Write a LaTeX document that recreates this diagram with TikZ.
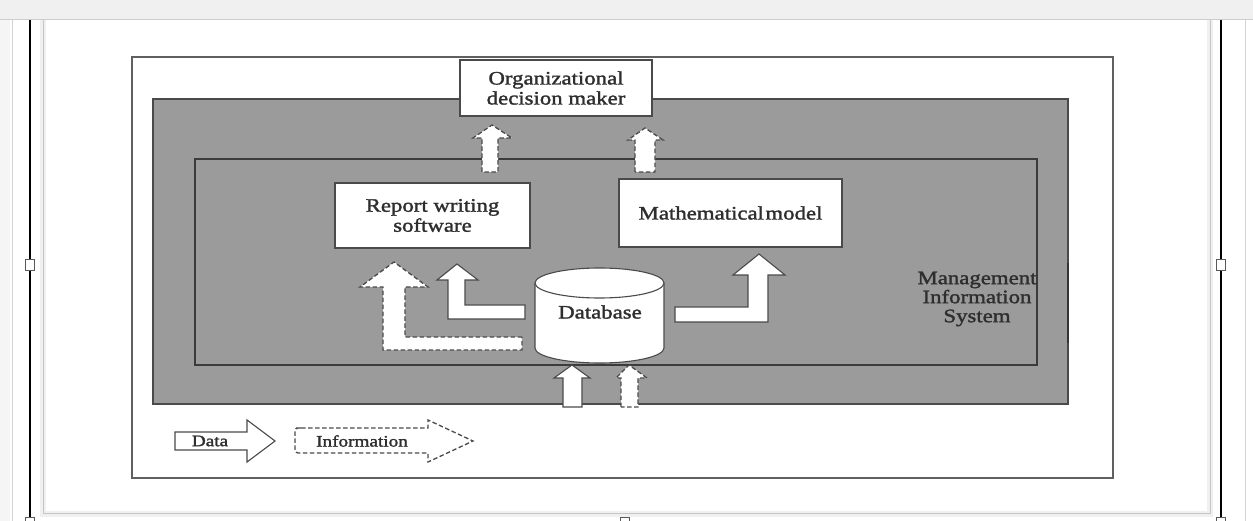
\documentclass[tikz,border=0pt]{standalone}
\usepackage{fontspec}
\newfontfamily\dfont{Liberation Serif}[FakeStretch=1.2,FakeBold=1.6]
\usetikzlibrary{calc}
\definecolor{panel}{HTML}{9B9B9B}
\definecolor{edge}{HTML}{4A4A4A}
\definecolor{ink}{HTML}{2E2E2E}
\definecolor{chrome}{HTML}{F0F0F0}
\tikzset{
  labelbox/.style={draw=edge, line width=1.1pt, fill=white, align=center,
    inner sep=0pt, text=ink, font=\dfont\fontsize{19}{20}\selectfont},
  plaintext/.style={align=center, inner sep=0pt, text=ink,
    font=\dfont\fontsize{19}{19}\selectfont},
  keytext/.style={inner sep=0pt, text=ink, font=\dfont\fontsize{16}{16}\selectfont},
  dataarrow/.style={draw=edge, line width=1.1pt, fill=white, line join=miter},
  infoarrow/.style={draw=edge, line width=1.3pt, fill=white, dash pattern=on 4.5pt off 2.5pt},
  handle/.style={draw=gray!70!black, fill=white, line width=0.6pt}
}
\begin{document}
\begin{tikzpicture}[x=1pt,y=-1pt]
\useasboundingbox (0,0) rectangle (1253,521);
\fill[white] (0,0) rectangle (1253,521);

% window chrome around the page
\fill[chrome] (0,0) rectangle (1253,19);
\fill[gray!8] (0,19) rectangle (10,521);
\draw[gray!40, line width=0.8pt] (0,19.5) -- (1253,19.5);
\draw[gray!35, line width=1pt] (12,20) -- (12,521);
\draw[gray!35, line width=1pt] (1245,20) -- (1245,521);
\fill[gray!12] (40,20) rectangle (46,516);
\fill[gray!12] (1207,20) rectangle (1213,516);
\fill[gray!12] (40,511) rectangle (1213,517);
\draw[gray!45, line width=0.8pt] (43,20) -- (43,513) -- (1210,513) -- (1210,20);
\draw[black, line width=1.6pt] (30,20) -- (30,521);
\draw[black, line width=1.6pt] (1221,20) -- (1221,521);
\draw[handle] (25.5,259.5) rectangle (34.5,270.5);
\draw[handle] (1216.5,259.5) rectangle (1225.5,270.5);
\draw[handle] (25.5,517.5) rectangle (34.5,525);
\draw[handle] (620.5,517.5) rectangle (629.5,525);
\draw[handle] (1216.5,517.5) rectangle (1225.5,525);

% frames
\draw[gray!75!black, line width=1.1pt] (132,57) rectangle (1113,478);
\draw[edge, fill=panel, line width=1.3pt] (153,99) rectangle (1068,404);
\draw[edge!80!black, line width=1.4pt] (195,159) rectangle (1037,365);
\draw[edge!70!black, line width=1.8pt] (1068,263) -- (1068,343);

% boxes
\node[labelbox, minimum width=192pt, minimum height=56pt] (dm) at (556,88)
  {Organizational\\decision maker};
\node[labelbox, minimum width=195pt, minimum height=65pt] (rw) at (432.5,215.5)
  {Report writing\\software};
\node[labelbox, minimum width=223pt, minimum height=68pt] (mm) at (730.5,213)
  {Mathematical\hspace{1.5pt}model};

% database cylinder
\draw[edge, line width=1.1pt, fill=white]
  (535,283) -- (535,348) arc[start angle=180, end angle=0, x radius=64.5, y radius=15]
  -- (664,283);
\draw[edge, line width=1.1pt, fill=white] (599.5,283) ellipse[x radius=64.5, y radius=15];
\node[plaintext] (db) at (600,312) {Database};

\node[plaintext] (mis) at (977,299) {Management\\Information\\System};

% information flow from the database to the report writer
\draw[infoarrow] (522,337) -- (405,337) -- (405,287) -- (428,287) -- (394,262)
  -- (360,287) -- (383,287) -- (383,350) -- (522,350) -- cycle;
% data flow from the database to the report writer
\draw[dataarrow] (525,305) -- (465,305) -- (465,280) -- (478,280) -- (457,264)
  -- (437,280) -- (448,280) -- (448,319) -- (525,319) -- cycle;
% data flow from the database to the model
\draw[dataarrow] (675,307) -- (748,307) -- (748,275) -- (733,275) -- (759,254)
  -- (785,275) -- (768,275) -- (768,322) -- (675,322) -- cycle;

% inputs into the database
\draw[dataarrow] (563,407) -- (563,378) -- (554,378) -- (572,365) -- (590,378)
  -- (582,378) -- (582,407) -- cycle;
\draw[infoarrow] (621,407) -- (621,378) -- (616,378) -- (629,365) -- (647,378)
  -- (638,378) -- (638,407) -- cycle;

% outputs to the decision maker
\draw[infoarrow] (482,172) -- (482,138) -- (473,138) -- (492,125) -- (512,138)
  -- (498,138) -- (498,172) -- cycle;
\draw[infoarrow] (635,172) -- (635,140) -- (628,140) -- (645,128) -- (663,140)
  -- (655,140) -- (655,172) -- cycle;

% key
\draw[dataarrow] (175,432) -- (247,432) -- (247,420) -- (275,441) -- (247,462)
  -- (247,450) -- (175,450) -- cycle;
\node[keytext] (kdata) at (210,441) {Data};
\draw[infoarrow, fill=none] (298,428) -- (428,428) -- (428,420) -- (473,441) -- (428,462)
  -- (428,453) -- (298,453) [rounded corners=3pt] -- (295,453) -- (295,428) -- cycle;
\node[keytext] (kinfo) at (362,441) {Information};
\end{tikzpicture}
\end{document}
